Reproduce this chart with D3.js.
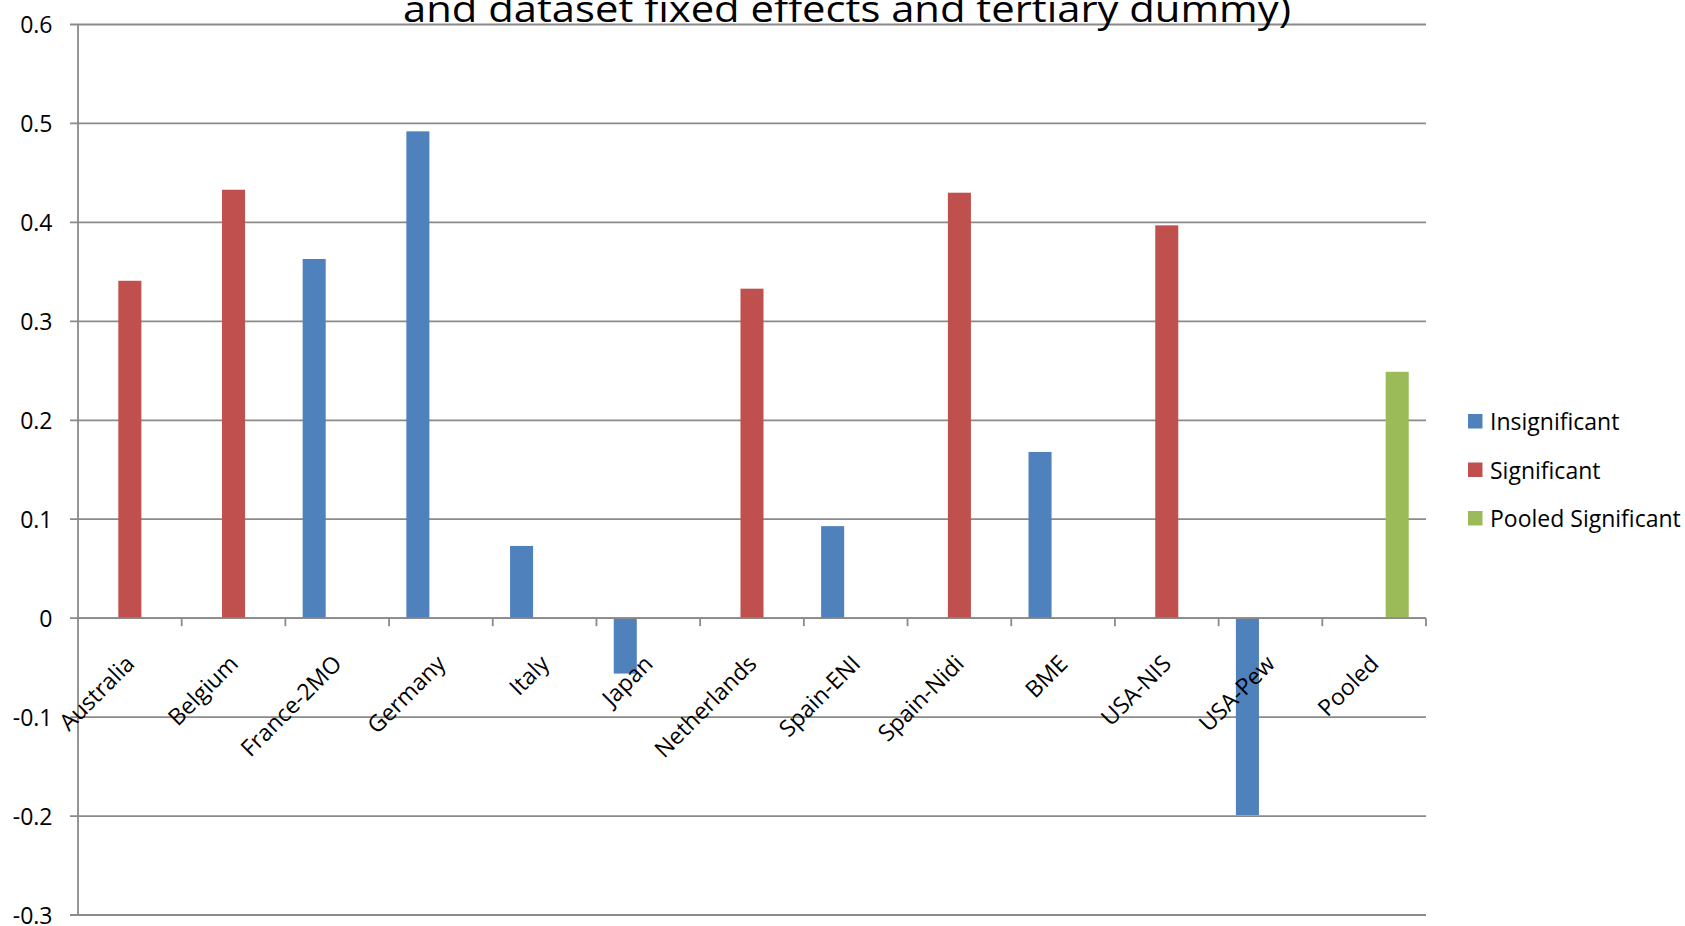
<!DOCTYPE html>
<html>
<head>
<meta charset="utf-8">
<script src="https://cdn.jsdelivr.net/npm/d3@7"></script>
<style>
  html, body { margin: 0; padding: 0; background: #fff; }
  svg { display: block; }
  text { font-family: "Open Sans", "DejaVu Sans", sans-serif; fill: #000; }
</style>
</head>
<body>
<svg id="chart" width="1685" height="926"></svg>
<script>
// ---- data ----
const categories = ["Australia", "Belgium", "France-2MO", "Germany", "Italy", "Japan",
  "Netherlands", "Spain-ENI", "Spain-Nidi", "BME", "USA-NIS", "USA-Pew", "Pooled"];
const seriesNames = ["Insignificant", "Significant", "Pooled Significant"];
const insignificant = [null, null, 0.363, 0.492, 0.073, -0.056, null, 0.093, null, 0.168, null, -0.199, null];
const significant = [0.341, 0.433, null, null, null, null, 0.333, null, 0.430, null, 0.397, null, null];
const pooledSignificant = [null, null, null, null, null, null, null, null, null, null, null, null, 0.249];
const yTicks = [-0.3, -0.2, -0.1, 0, 0.1, 0.2, 0.3, 0.4, 0.5, 0.6];
const titleLine = "and dataset fixed effects and tertiary dummy)";
const colors = ["#4F81BD", "#C0504D", "#9BBB59"];

// ---- layout ----
const plotLeft = 78, plotRight = 1426, plotTop = 24.5, plotBottom = 915;
const svg = d3.select("#chart");

const y = d3.scaleLinear().domain([-0.3, 0.6]).range([plotBottom, plotTop]);
const x0 = d3.scaleBand().domain(categories).range([plotLeft, plotRight]).padding(0);
const x1 = d3.scaleBand().domain(seriesNames).range([0, x0.bandwidth()])
  .paddingInner(0).paddingOuter(0.75);
const color = d3.scaleOrdinal().domain(seriesNames).range(colors);

const gridColor = "#8a8a8a";
const fs = "23px";

// gridlines
svg.append("g").selectAll("line").data(yTicks).join("line")
  .attr("x1", plotLeft - 8).attr("x2", plotRight)
  .attr("y1", d => y(d)).attr("y2", d => y(d))
  .attr("stroke", gridColor).attr("stroke-width", 1.8);

// bars
const seriesData = [insignificant, significant, pooledSignificant];
const barData = [];
seriesData.forEach((arr, si) => {
  arr.forEach((v, ci) => {
    if (v !== null) barData.push({ cat: categories[ci], series: seriesNames[si], value: v });
  });
});
svg.append("g").selectAll("rect").data(barData).join("rect")
  .attr("x", d => x0(d.cat) + x1(d.series))
  .attr("width", x1.bandwidth())
  .attr("y", d => Math.min(y(d.value), y(0)))
  .attr("height", d => Math.abs(y(d.value) - y(0)))
  .attr("fill", d => color(d.series));

// y axis
const yAxis = d3.axisLeft(y).tickValues(yTicks).tickSize(0).tickPadding(0)
  .tickFormat(d => String(+d.toFixed(1)));
const gy = svg.append("g").attr("transform", `translate(${plotLeft},0)`).call(yAxis);
gy.select(".domain").remove();
gy.selectAll("text")
  .attr("x", -25.5)
  .attr("dy", "0.36em")
  .style("font-size", fs)
  .style("font-family", "'Open Sans', sans-serif")
  .attr("fill", "#000");
svg.append("line")
  .attr("x1", plotLeft).attr("x2", plotLeft)
  .attr("y1", plotTop).attr("y2", plotBottom)
  .attr("stroke", gridColor).attr("stroke-width", 1.8);

// x axis at zero
const y0 = y(0);
svg.append("line")
  .attr("x1", plotLeft).attr("x2", plotRight)
  .attr("y1", y0).attr("y2", y0)
  .attr("stroke", gridColor).attr("stroke-width", 1.8);
svg.append("g").selectAll("line").data(categories).join("line")
  .attr("x1", d => x0(d) + x0.bandwidth()).attr("x2", d => x0(d) + x0.bandwidth())
  .attr("y1", y0).attr("y2", y0 + 8)
  .attr("stroke", gridColor).attr("stroke-width", 1.8);

// category labels
svg.append("g").selectAll("text").data(categories).join("text")
  .attr("transform", d => `translate(${x0(d) + x0.bandwidth() / 2 + 6},${y0 + 47}) rotate(-45)`)
  .attr("text-anchor", "end")
  .style("font-size", fs)
  .text(d => d);

// title (second line, partly cut off at top)
svg.append("text")
  .attr("x", 847).attr("y", 21.7)
  .attr("text-anchor", "middle")
  .attr("textLength", 888)
  .attr("lengthAdjust", "spacingAndGlyphs")
  .style("font-size", "37px")
  .text(titleLine);

// legend
const legend = svg.append("g").attr("transform", "translate(1468,414)");
const li = legend.selectAll("g").data(seriesNames).join("g")
  .attr("transform", (d, i) => `translate(0,${i * 48.5})`);
li.append("rect").attr("width", 14.5).attr("height", 14.5).attr("fill", d => color(d));
li.append("text").attr("x", 22).attr("y", 16).style("font-size", fs).text(d => d);
</script>
</body>
</html>
